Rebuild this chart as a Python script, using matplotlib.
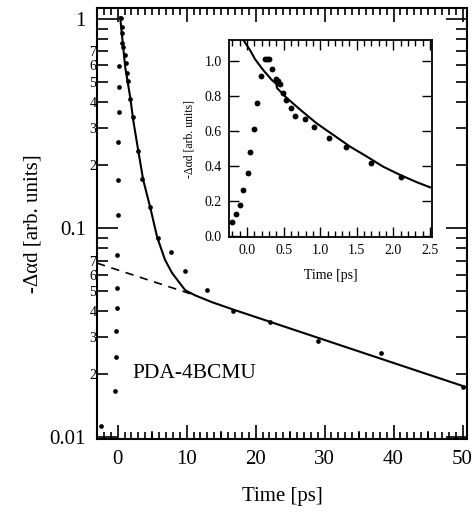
import matplotlib
matplotlib.use("Agg")
import matplotlib.pyplot as plt
from matplotlib.ticker import FixedLocator, FuncFormatter, MultipleLocator, LogLocator

plt.rcParams['font.family'] = ['Liberation Serif', 'DejaVu Serif']

# ---- main panel data (log scale) ----
t_points = [-2.4, -0.36, -0.22, -0.22, -0.07, -0.07, -0.07, 0.07, 0.07, 0.07, 0.22, 0.22, 0.22,
            0.51, 0.65, 0.65, 0.65, 0.8, 1.09, 1.23, 1.38, 1.52, 1.81, 2.25, 2.97, 3.55, 4.71,
            5.87, 7.75, 9.78, 12.97, 16.74, 22.1, 29.1, 38.2, 50.1]
od_points = [0.0113, 0.0166, 0.0241, 0.0321, 0.0414, 0.0516, 0.0743, 0.116, 0.170, 0.258, 0.359, 0.473, 0.596,
             1.01, 0.916, 0.857, 0.767, 0.735, 0.672, 0.616, 0.552, 0.505, 0.414, 0.340, 0.233, 0.171, 0.126,
             0.0896, 0.0767, 0.0622, 0.0505, 0.0401, 0.0355, 0.0288, 0.0252, 0.0173]

t_fit = [0.36, 1.09, 1.81, 2.25, 2.97, 3.70, 4.71, 5.72, 6.88, 7.9, 9.78, 11.23, 13.7, 17.03, 50.65]
od_fit = [1.02, 0.589, 0.424, 0.329, 0.236, 0.170, 0.126, 0.0906, 0.0703, 0.0609, 0.0505, 0.0477, 0.0442, 0.0405, 0.0173]

t_slow = [-3.0, 11.23]
od_slow = [0.068, 0.0477]

# ---- inset data (linear scale) ----
t_in = [-0.21, -0.15, -0.095, -0.05, 0.01, 0.04, 0.10, 0.14, 0.19, 0.25, 0.27, 0.30, 0.34, 0.39,
        0.42, 0.43, 0.45, 0.49, 0.53, 0.60, 0.66, 0.79, 0.92, 1.12, 1.35, 1.69, 2.11]
od_in = [0.082, 0.124, 0.177, 0.263, 0.362, 0.477, 0.61, 0.762, 0.916, 1.01, 1.01, 1.01, 0.954, 0.897,
         0.886, 0.873, 0.867, 0.819, 0.777, 0.73, 0.687, 0.667, 0.625, 0.558, 0.507, 0.419, 0.339]

t_in_fit = [-0.05, 0.04, 0.11, 0.22, 0.34, 0.40, 0.41, 0.54, 0.72, 0.95, 1.18, 1.41, 1.64, 1.86, 2.09, 2.32, 2.50]
od_in_fit = [1.12, 1.063, 1.01, 0.949, 0.891, 0.87, 0.845, 0.79, 0.724, 0.644, 0.577, 0.51, 0.453, 0.396, 0.349, 0.307, 0.278]

fig = plt.figure(figsize=(4.74, 5.12), dpi=100)

# ==========================================
# MAIN PANEL
# ==========================================
ax = fig.add_axes([97 / 474, 1 - 439 / 512, 370 / 474, 431 / 512])
ax.plot(t_points, od_points, 'o', color='black', markersize=3.4, markeredgewidth=0)
ax.plot(t_fit, od_fit, '-', color='black', linewidth=1.5)
ax.plot(t_slow, od_slow, '--', color='black', linewidth=1.2, dashes=(5, 4))
ax.set_yscale('log')
ax.set_xlim(-3.0, 50.65)
ax.set_ylim(0.0098, 1.13)

ax.xaxis.set_major_locator(MultipleLocator(10))
ax.xaxis.set_minor_locator(MultipleLocator(1))
ax.yaxis.set_major_locator(FixedLocator([0.01, 0.1, 1]))
ax.yaxis.set_major_formatter(FuncFormatter(lambda v, p: {0.01: '0.01', 0.1: '0.1', 1: '1'}.get(round(v, 3), '')))
ax.yaxis.set_minor_locator(LogLocator(base=10, subs=range(2, 10), numticks=20))


def minor_label(v, pos):
    d = int(round(v / 10 ** int(f"{v:e}".split('e')[1])))
    return str(d) if 2 <= d <= 7 else ''


ax.yaxis.set_minor_formatter(FuncFormatter(minor_label))

ax.tick_params(which='both', direction='in', top=True, right=True, width=1.2)
ax.tick_params(axis='x', which='major', length=10, labelsize=15, pad=8)
ax.tick_params(axis='x', which='minor', length=5)
ax.tick_params(axis='y', which='major', length=15, labelsize=15, pad=8)
ax.tick_params(axis='y', which='minor', length=8, labelsize=10, pad=0.5)
for s in ax.spines.values():
    s.set_linewidth(1.5)

# medium ticks at the half decades (5, 15, 25 ...)
for xm in [5, 15, 25, 35, 45]:
    ax.plot([xm, xm], [0.0098, 0.0098 * 10 ** (7 / 209)], color='black', linewidth=1.2, clip_on=False)

ax.set_xlabel('Time [ps]', fontsize=15, labelpad=13)
ax.set_ylabel('-Δαd [arb. units]', fontsize=15, labelpad=5)
ax.text(0.0946, 0.153, 'PDA-4BCMU', transform=ax.transAxes, fontsize=15.5, va='center', ha='left')

# ==========================================
# INSET
# ==========================================
ins = fig.add_axes([229 / 474, 1 - 237 / 512, 203 / 474, 197 / 512])
ins.plot(t_in, od_in, 'o', color='black', markersize=4.2, markeredgewidth=0)
ins.plot(t_in_fit, od_in_fit, '-', color='black', linewidth=1.5)
ins.set_xlim(-0.246, 2.527)
ins.set_ylim(-0.006, 1.12)
ins.xaxis.set_major_locator(MultipleLocator(0.5))
ins.xaxis.set_minor_locator(MultipleLocator(0.1))
ins.yaxis.set_major_locator(MultipleLocator(0.2))
ins.xaxis.set_major_formatter(FuncFormatter(lambda v, p: f"{v:.1f}"))
ins.yaxis.set_major_formatter(FuncFormatter(lambda v, p: f"{v:.1f}"))
ins.tick_params(which='both', direction='in', top=True, right=True, width=1.0, labelsize=10)
ins.tick_params(which='major', length=7, pad=5)
ins.tick_params(which='minor', length=4)
for s in ins.spines.values():
    s.set_linewidth(1.3)
ins.set_xlabel('Time [ps]', fontsize=10, labelpad=9)
ins.set_ylabel('-Δαd [arb. units]', fontsize=8.5, labelpad=7)

fig.savefig('out.png', dpi=100)
